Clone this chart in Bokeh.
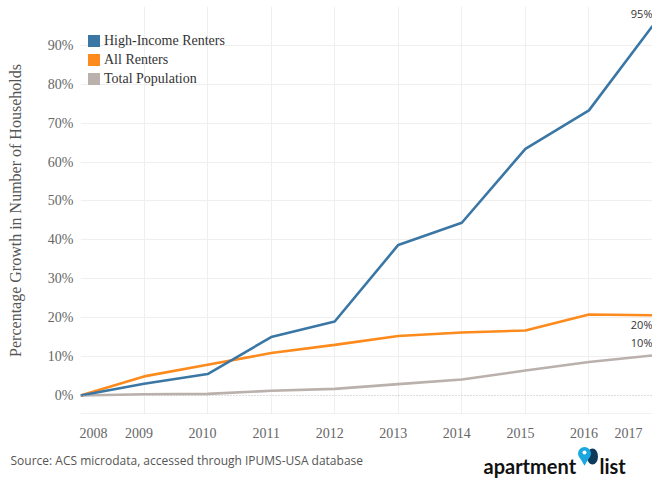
from bokeh.plotting import figure
from bokeh.models import (ColumnDataSource, Range1d, FixedTicker, LabelSet, Span,
                          Legend, LegendItem)
from bokeh.layouts import column
from bokeh.embed import file_html
from bokeh.resources import INLINE
from bokeh.core.properties import value

# ---- data ----
years = [2008, 2009, 2010, 2011, 2012, 2013, 2014, 2015, 2016, 2017]
high_income = [0.0, 3.0, 5.5, 15.0, 19.0, 38.7, 44.4, 63.4, 73.3, 95.0]
all_renters = [0.0, 4.9, 7.9, 10.9, 13.0, 15.3, 16.2, 16.7, 20.8, 20.6]
total_pop = [0.0, 0.3, 0.4, 1.2, 1.7, 2.9, 4.1, 6.4, 8.6, 10.3]
series_names = ["High-Income Renters", "All Renters", "Total Population"]
end_labels = ["95%", "20%", "10%"]
y_ticks = [0, 10, 20, 30, 40, 50, 60, 70, 80, 90]
y_tick_labels = ["0%", "10%", "20%", "30%", "40%", "50%", "60%", "70%", "80%", "90%"]
x_tick_labels = ["2008", "2009", "2010", "2011", "2012", "2013", "2014", "2015", "2016", "2017"]
y_title = "Percentage Growth in Number of Households"
source_note = "Source: ACS microdata, accessed through IPUMS-USA database"

colors = ["#3b77a5", "#fd8a1c", "#bab0ac"]
SERIF = "Liberation Serif"
NAN = float("nan")

W = 652
LEFT = 80
Y0, Y1 = -4.9, 100.0
p = figure(width=W, height=414, x_range=Range1d(years[0], years[-1]),
           y_range=Range1d(Y0, Y1), output_backend="svg", toolbar_location=None,
           min_border_left=LEFT, min_border_right=0, min_border_top=6,
           min_border_bottom=0)
p.outline_line_color = None
p.frame_align = False

# grids
p.xgrid.ticker = FixedTicker(ticks=years)
p.xgrid.grid_line_color = "#efefef"
p.ygrid.ticker = FixedTicker(ticks=y_ticks[1:])
p.ygrid.grid_line_color = "#efefef"

# axes
p.xaxis.visible = False
p.yaxis.ticker = FixedTicker(ticks=y_ticks)
p.yaxis.major_label_overrides = {t: l for t, l in zip(y_ticks, y_tick_labels)}
p.yaxis.major_label_text_font = SERIF
p.yaxis.major_label_text_font_size = "14px"
p.yaxis.major_label_text_color = "#666666"
p.yaxis.major_tick_line_color = None
p.yaxis.minor_tick_line_color = None
p.yaxis.major_tick_out = 0
p.yaxis.major_tick_in = 0
p.yaxis.major_label_standoff = 7
p.yaxis.axis_line_color = None
p.yaxis.axis_label = y_title
p.yaxis.axis_label_text_font = SERIF
p.yaxis.axis_label_text_font_style = "normal"
p.yaxis.axis_label_text_font_size = "16px"
p.yaxis.axis_label_text_color = "#555555"
p.yaxis.axis_label_standoff = 21

# zero line and bottom edge
p.add_layout(Span(location=0, dimension="width", line_color="#b8b8b8",
                  line_dash="1 2", line_width=1))
p.add_layout(Span(location=Y0, dimension="width", line_color="#e4e4e4", line_width=2))

# lines
series = [high_income, all_renters, total_pop]
for vals, c in reversed(list(zip(series, colors))):
    p.line(years, vals, line_width=2.6, line_color=c)

# end labels
end_src = ColumnDataSource(dict(x=[years[-1]] * 3, y=[s[-1] for s in series],
                                text=end_labels, dy=[5, -17, 5]))
p.add_layout(LabelSet(x="x", y="y", text="text", source=end_src, y_offset="dy",
                      text_align="right", text_baseline="bottom",
                      text_font=value("Open Sans"), text_font_size="11px",
                      text_color="#333333"))

# legend with square swatches
items = []
for name, c in zip(series_names, colors):
    r = p.quad(left=[NAN], right=[NAN], top=[NAN], bottom=[NAN], fill_color=c, line_color=None)
    items.append(LegendItem(label=name, renderers=[r]))
leg = Legend(items=items, location=(6, 327.5), padding=0, margin=0, spacing=3,
             glyph_width=15, glyph_height=15, label_height=15, label_standoff=3,
             label_text_font=SERIF, label_text_font_size="14px",
             label_text_color="#333333", border_line_color=None,
             background_fill_alpha=0)
p.add_layout(leg)

# footer: x tick labels (aligned with main x scale), source and logo
FH = 65
ppy = (W - LEFT) / (years[-1] - years[0])
xs = years[0] - LEFT / ppy
def px(v):
    return xs + v / ppy

f = figure(width=W, height=FH, x_range=Range1d(xs, years[-1]), y_range=Range1d(FH, 0),
           output_backend="svg", toolbar_location=None, min_border=0,
           min_border_left=0, min_border_right=0, min_border_top=0, min_border_bottom=0)
f.frame_align = False
f.axis.visible = False
f.grid.visible = False
f.outline_line_color = None

offs = [13] + [-5] * (len(years) - 2) + [-24]
f.text(x=years, y=[18] * len(years), text=x_tick_labels, x_offset=offs,
       text_align="center", text_baseline="middle", text_font=value(SERIF),
       text_font_size="14px", text_color="#666666")

f.text(x=[px(10)], y=[46], text=[source_note], text_font=value("Open Sans"),
       text_font_size="12px", text_color="#555555", text_baseline="middle")
f.text(x=[px(483)], y=[51], text=["apartment"], text_font=value("Lato"),
       text_font_style="bold", text_font_size="20px", text_color="#111111",
       text_baseline="alphabetic")
f.text(x=[px(599)], y=[51], text=["list"], text_font=value("Lato"),
       text_font_style="bold", text_font_size="20px", text_color="#111111",
       text_baseline="alphabetic")
f.ellipse(x=[px(592)], y=[42], width=11 / ppy, height=16, fill_color="#0e3b5c", line_color=None)
f.scatter(x=[px(584)], y=[45], marker="inverted_triangle", size=11, fill_color="#1aa7e0", line_color=None)
f.scatter(x=[px(584)], y=[39], marker="circle", size=13, fill_color="#1aa7e0", line_color=None)
f.scatter(x=[px(584)], y=[38], marker="circle", size=4, fill_color="white", line_color=None)

layout = column(p, f, spacing=0)
open("out.html", "w").write(file_html(layout, INLINE))
